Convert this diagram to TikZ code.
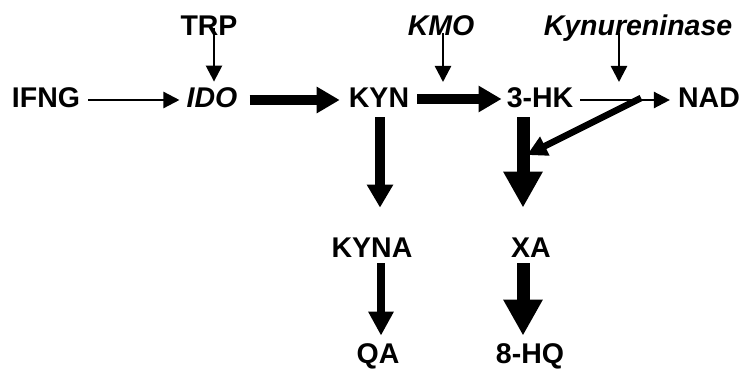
\documentclass[tikz,border=0pt]{standalone}
\usepackage{fontspec}
\setmainfont{Liberation Sans}
\usetikzlibrary{arrows.meta,calc}
\begin{document}
\begin{tikzpicture}[x=1pt,y=1pt,
  lbl/.style={font=\fontsize{28.5}{34}\selectfont\bfseries, inner sep=0pt, text height=20.4pt, text depth=0pt},
  ilbl/.style={lbl, font=\fontsize{28.5}{34}\selectfont\bfseries\itshape},
  thinarr/.style={line width=2.4pt, -{Triangle[length=16pt,width=16pt]}},
  medarr/.style={line width=10pt, -{Triangle[length=23pt,width=25pt]}},
  narrarr/.style={line width=8.5pt, -{Triangle[length=24pt,width=24pt]}},
  bigarr/.style={line width=13pt, -{Triangle[length=36pt,width=37pt]}},
  diagarr/.style={line width=6.5pt, -{Triangle[length=20pt,width=20pt]}}
]
\useasboundingbox (0,0) rectangle (745,-369);
\node[lbl] (ifng) at (46,-97) {IFNG};
\node[ilbl] (ido) at (212,-97) {IDO};
\node[lbl] (trp) at (209,-25) {TRP};
\node[lbl] (kyn) at (379,-97) {KYN};
\node[ilbl] (kmo) at (441,-25) {KMO};
\node[lbl] (hk) at (540,-97) {3-HK};
\node[ilbl] (kyni) at (638,-25) {Kynureninase};
\node[lbl] (nad) at (709,-97) {NAD};
\node[lbl] (kyna) at (372,-247) {KYNA};
\node[lbl] (xa) at (531,-247) {XA};
\node[lbl] (qa) at (378,-353) {QA};
\node[lbl] (hq) at (530,-353) {8-HQ};
\coordinate (kmoend) at (443,-82);
\coordinate (kyniend) at (619,-82);
\coordinate (branch) at (641,-98);
\coordinate (branchend) at (527,-155);
% thin arrows
\draw[thinarr] ($(ifng.east)+(8,-3)$) -- ($(ido.west)+(-7,-3)$);
\draw[thinarr] ($(trp.center)+(5,-3)$) -- ($(ido.north)+(2,5)$);
\draw[thinarr] ($(kmo.center)+(2,-8)$) -- (kmoend);
\draw[thinarr] ($(kyni.center)+(-19,-8)$) -- (kyniend);
\draw[thinarr] ($(hk.east)+(7,-3)$) -- ($(nad.west)+(-8,-3)$);
% thick arrows
\draw[medarr] ($(ido.east)+(12,-3)$) -- ($(kyn.west)+(-9,-3)$);
\draw[medarr] ($(kyn.east)+(8,-2)$) -- ($(hk.west)+(-5,-2)$);
\draw[medarr] ($(kyn.south)+(1,-10)$) -- ($(kyna.north)+(8,29)$);
\draw[narrarr] ($(kyna.south)+(9,-6)$) -- ($(qa.north)+(3,7)$);
\draw[bigarr] ($(hk.south)+(-17,-10)$) -- ($(xa.north)+(-8,29)$);
\draw[bigarr] ($(xa.south)+(-8,-6)$) -- ($(hq.north)+(-7,7)$);
\draw[diagarr] (branch) -- (branchend);
\end{tikzpicture}
\end{document}
